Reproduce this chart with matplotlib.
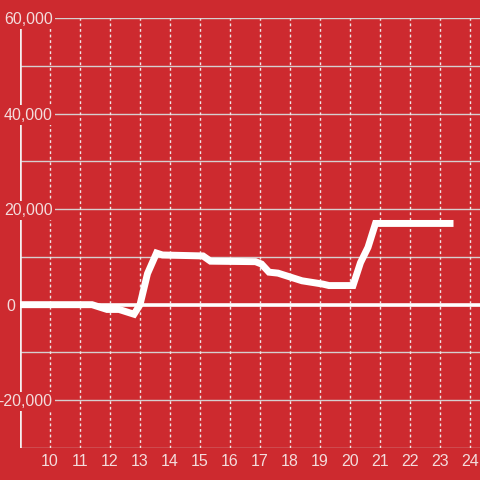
import matplotlib
matplotlib.use("Agg")
import matplotlib.pyplot as plt
import matplotlib.transforms as mtrans

hours = [9.0, 11.4, 11.9, 12.3, 12.8, 13.0, 13.25, 13.55, 13.75, 15.1, 15.35, 16.85,
         17.05, 17.3, 17.6, 18.0, 18.4, 18.7, 19.1, 19.3, 20.1, 20.35, 20.6, 20.85, 23.45]
values = [0, 0, -1000, -1000, -2000, 0, 6500, 10800, 10400, 10200, 9100, 9000,
          8500, 6800, 6600, 5800, 5000, 4700, 4300, 4000, 4000, 8800, 12000, 17000, 17000]

x_ticks = list(range(10, 25))
y_grid = [-30000, -20000, -10000, 0, 10000, 20000, 30000, 40000, 50000, 60000]
y_labels = [-20000, 0, 20000, 40000, 60000]

bg = '#cd2a2f'
txt = '#f3dcdc'

plt.rcParams['font.family'] = ['Liberation Sans', 'DejaVu Sans']
fig = plt.figure(figsize=(4.8, 4.8), dpi=100, facecolor=bg)
ax = fig.add_axes([20/480, 32/480, 460/480, 430/480])
ax.set_facecolor(bg)
ax.set_xlim(9, 24.333)
ax.set_ylim(-30000, 60000)

for s in ax.spines.values():
    s.set_visible(False)

for v in y_grid:
    ax.axhline(v, color='#d6cfcf', lw=1, zorder=1.0)
ax.set_xticks(x_ticks)
ax.grid(axis='x', color='#f0e6e6', lw=1, linestyle=(0, (2, 2)))
ax.set_axisbelow(False)
for gl in ax.get_xgridlines():
    gl.set_zorder(1.05)

ax.axhline(0, color='white', lw=2.6, zorder=1.2)
ax.axvline(9, color='#f5f0f0', lw=2.6, zorder=1.2)

ax.set_yticks(y_labels)
ax.set_yticklabels([f"{v:,}" for v in y_labels])
ax.tick_params(axis='y', length=0, pad=-23.5, labelsize=11.5, labelcolor=txt)
ax.tick_params(axis='x', length=0, pad=4.5, labelsize=11.5, labelcolor=txt)
for lab in ax.get_yticklabels():
    lab.set_bbox(dict(facecolor=bg, edgecolor='none', pad=1.5))
    if lab.get_text() == '0':
        lab.set_transform(lab.get_transform() + mtrans.ScaledTranslation(-37/100, 0, fig.dpi_scale_trans))
        lab.set_bbox(None)

ax.plot(hours, values, color='white', lw=5, solid_joinstyle='miter', solid_capstyle='butt', zorder=3)

fig.savefig('out.png', dpi=100, facecolor=bg)
